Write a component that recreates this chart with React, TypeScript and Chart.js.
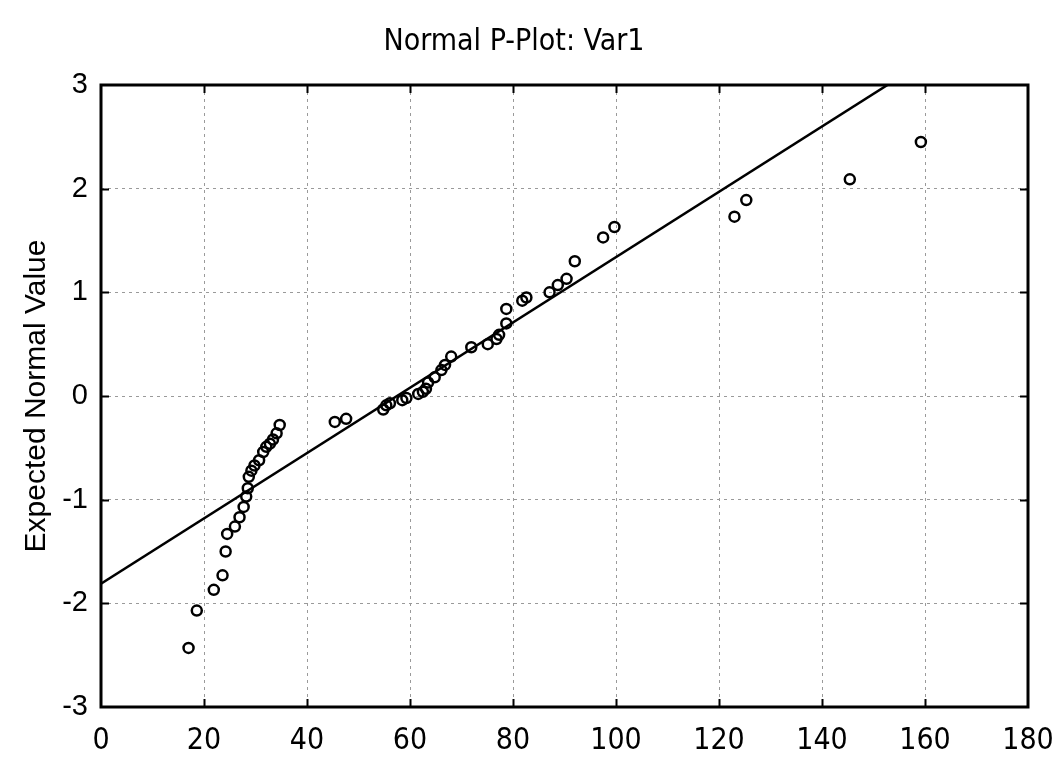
import React, { useEffect, useRef } from "react";
import { Chart, registerables } from "chart.js";

Chart.register(...registerables);

const TITLE = "Normal P-Plot: Var1";
const Y_TITLE = "Expected Normal Value";

const xValues = [
  17.0, 18.6, 21.9, 23.6, 24.2, 24.5, 26.0, 26.9, 27.7, 28.2, 28.5, 28.7, 29.2, 29.8,
  30.7, 31.5, 32.1, 32.8, 33.4, 34.1, 34.7, 45.4, 47.6, 54.8, 55.4, 56.1, 58.5, 59.3,
  61.6, 62.5, 63.1, 63.5, 64.8, 66.1, 66.8, 68.0, 71.9, 75.1, 76.8, 77.3, 78.7, 78.7,
  81.8, 82.6, 87.1, 88.7, 90.4, 92.0, 97.5, 99.7, 123.0, 125.3, 145.4, 159.2,
];
const expectedNormal = [
  -2.43, -2.07, -1.87, -1.73, -1.5, -1.33, -1.26, -1.17, -1.07, -0.97, -0.89, -0.78, -0.72, -0.67,
  -0.62, -0.54, -0.49, -0.46, -0.42, -0.36, -0.28, -0.25, -0.22, -0.13, -0.09, -0.07, -0.04, -0.02,
  0.02, 0.04, 0.07, 0.13, 0.18, 0.25, 0.3, 0.38, 0.47, 0.5, 0.55, 0.59, 0.7, 0.84,
  0.92, 0.95, 1.0, 1.07, 1.13, 1.3, 1.53, 1.63, 1.73, 1.89, 2.09, 2.45,
];

const FIT_INTERCEPT = -1.81;
const FIT_SLOPE = 0.0315;
const fitX = [0, 180];

const X_MIN = 0, X_MAX = 180, X_STEP = 20;
const Y_MIN = -3, Y_MAX = 3, Y_STEP = 1;

const NARROW = "'Liberation Sans Narrow', 'DejaVu Sans Condensed', 'Liberation Sans', sans-serif";
const SANS = "'Liberation Sans', Arial, sans-serif";

const framePlugin = {
  id: "frame",
  afterDraw(chart: any) {
    const { ctx, chartArea } = chart;
    const { left, right, top, bottom } = chartArea;
    const xs = chart.scales.x;
    const ys = chart.scales.y;
    const tl = 8;
    ctx.save();
    ctx.strokeStyle = "#000";
    ctx.lineWidth = 2;
    ctx.beginPath();
    for (let v = X_MIN + X_STEP; v < X_MAX; v += X_STEP) {
      const px = Math.round(xs.getPixelForValue(v)) + 0.5;
      ctx.moveTo(px, bottom);
      ctx.lineTo(px, bottom - tl);
      ctx.moveTo(px, top);
      ctx.lineTo(px, top + tl);
    }
    for (let v = Y_MIN + Y_STEP; v < Y_MAX; v += Y_STEP) {
      const py = Math.round(ys.getPixelForValue(v)) + 0.5;
      ctx.moveTo(left, py);
      ctx.lineTo(left + tl, py);
      ctx.moveTo(right, py);
      ctx.lineTo(right - tl, py);
    }
    ctx.stroke();
    ctx.lineWidth = 3;
    ctx.strokeRect(left, top, right - left, bottom - top);
    ctx.restore();
  },
};

export default function App() {
  const ref = useRef<HTMLCanvasElement | null>(null);

  useEffect(() => {
    if (!ref.current) return;
    const points = xValues.map((x, i) => ({ x, y: expectedNormal[i] }));
    const fit = fitX.map((x) => ({ x, y: FIT_INTERCEPT + FIT_SLOPE * x }));
    const chart = new Chart(ref.current, {
      type: "scatter",
      data: {
        datasets: [
          {
            type: "line",
            data: fit,
            borderColor: "#000",
            borderWidth: 2.5,
            pointRadius: 0,
            showLine: true,
            fill: false,
          } as any,
          {
            data: points,
            pointStyle: "circle",
            pointRadius: 5,
            pointBorderWidth: 2.5,
            pointBorderColor: "#000",
            pointBackgroundColor: "rgba(0,0,0,0)",
          } as any,
        ],
      },
      options: {
        animation: false,
        responsive: false,
        devicePixelRatio: 1,
        layout: { padding: { left: 0, right: 28, top: 0, bottom: 0 } },
        plugins: {
          legend: { display: false },
          tooltip: { enabled: false },
          title: {
            display: true,
            text: TITLE,
            color: "#000",
            font: { family: NARROW, size: 30, weight: "normal" as any, lineHeight: 1.2 },
            padding: { top: 24, bottom: 25 },
          },
        },
        scales: {
          x: {
            type: "linear",
            min: X_MIN,
            max: X_MAX,
            afterFit(scale: any) {
              scale.height = 53;
              scale.paddingLeft = 0;
              scale.paddingRight = 0;
            },
            ticks: {
              stepSize: X_STEP,
              color: "#000",
              padding: 16,
              maxRotation: 0,
              font: { family: NARROW, size: 30 },
            },
            grid: { color: "#9a9a9a", lineWidth: 1, drawTicks: false },
            border: { display: false, dash: [3, 4] },
          },
          y: {
            type: "linear",
            min: Y_MIN,
            max: Y_MAX,
            afterFit(scale: any) {
              scale.width = 101;
              scale.paddingTop = 0;
              scale.paddingBottom = 0;
            },
            ticks: {
              stepSize: Y_STEP,
              color: "#000",
              padding: 13,
              font: { family: SANS, size: 29 },
            },
            title: {
              display: true,
              text: Y_TITLE,
              color: "#000",
              font: { family: SANS, size: 30 },
              padding: { top: 19, bottom: 0 },
            },
            grid: { color: "#9a9a9a", lineWidth: 1, drawTicks: false },
            border: { display: false, dash: [3, 4] },
          },
        },
      },
      plugins: [framePlugin],
    });
    return () => chart.destroy();
  }, []);

  return (
    <div style={{ position: "absolute", left: 0, top: 0, width: 1056, height: 760, background: "#fff" }}>
      <canvas ref={ref} width={1056} height={760} />
    </div>
  );
}
